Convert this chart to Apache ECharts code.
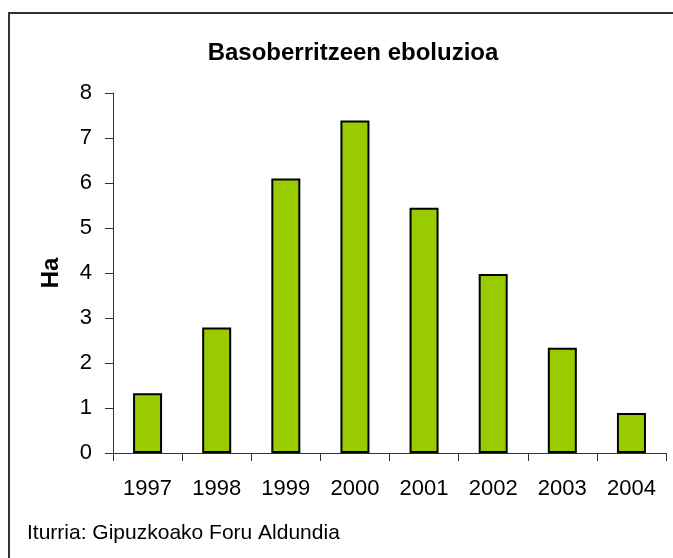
<!DOCTYPE html>
<html>
<head>
<meta charset="utf-8">
<script src="https://cdn.jsdelivr.net/npm/echarts@6/dist/echarts.min.js"></script>
<style>
  html, body { margin: 0; padding: 0; background: #fff; }
  #chart { width: 673px; height: 558px; }
</style>
</head>
<body>
<div id="chart"></div>
<script>
// Reforestation area per year (hectares)
const years = ['1997', '1998', '1999', '2000', '2001', '2002', '2003', '2004'];
const hectares = [1.33, 2.79, 6.10, 7.39, 5.45, 3.98, 2.34, 0.89];
const yTicks = { min: 0, max: 8, interval: 1 };

const titleText = 'Basoberritzeen eboluzioa';
const yName = 'Ha';
const sourceNote = 'Iturria: Gipuzkoako Foru Aldundia';

const FONT = '"Liberation Sans", Arial, sans-serif';

const chart = echarts.init(document.getElementById('chart'), null, { renderer: 'canvas' });

chart.setOption({
  backgroundColor: '#ffffff',
  animation: false,
  title: {
    text: titleText,
    left: 348,
    top: 36,
    textAlign: 'center',
    textStyle: { fontFamily: FONT, fontSize: 24, fontWeight: 'bold', color: '#000' }
  },
  graphic: [
    {
      type: 'rect',
      shape: { x: 9, y: 13, width: 720, height: 620 },
      style: { fill: 'none', stroke: '#333', lineWidth: 2 },
      silent: true
    },
    {
      type: 'text',
      left: 27,
      top: 523,
      style: { text: sourceNote, font: '21px ' + FONT, fill: '#000' },
      silent: true
    }
  ],
  grid: { left: 113, right: 7, top: 93, bottom: 105, containLabel: false },
  xAxis: {
    type: 'category',
    data: years,
    boundaryGap: true,
    axisLine: { lineStyle: { color: '#333', width: 1 } },
    axisTick: { show: true, length: 8, alignWithLabel: false, lineStyle: { color: '#333' } },
    axisLabel: { margin: 25, fontFamily: FONT, fontSize: 22, color: '#000' },
    splitLine: { show: false }
  },
  yAxis: {
    type: 'value',
    min: yTicks.min,
    max: yTicks.max,
    interval: yTicks.interval,
    name: yName,
    nameLocation: 'middle',
    nameGap: 50,
    nameRotate: 90,
    nameTextStyle: { fontFamily: FONT, fontSize: 24, fontWeight: 'bold', color: '#000' },
    axisLine: { show: true, lineStyle: { color: '#333', width: 1 } },
    axisTick: { show: true, length: 8, lineStyle: { color: '#333' } },
    axisLabel: { margin: 21, fontFamily: FONT, fontSize: 22, color: '#000' },
    splitLine: { show: false }
  },
  series: [
    {
      type: 'bar',
      data: hectares,
      barWidth: 29,
      itemStyle: { color: '#99CC00', borderColor: '#000', borderWidth: 2 }
    }
  ]
});
</script>
</body>
</html>
